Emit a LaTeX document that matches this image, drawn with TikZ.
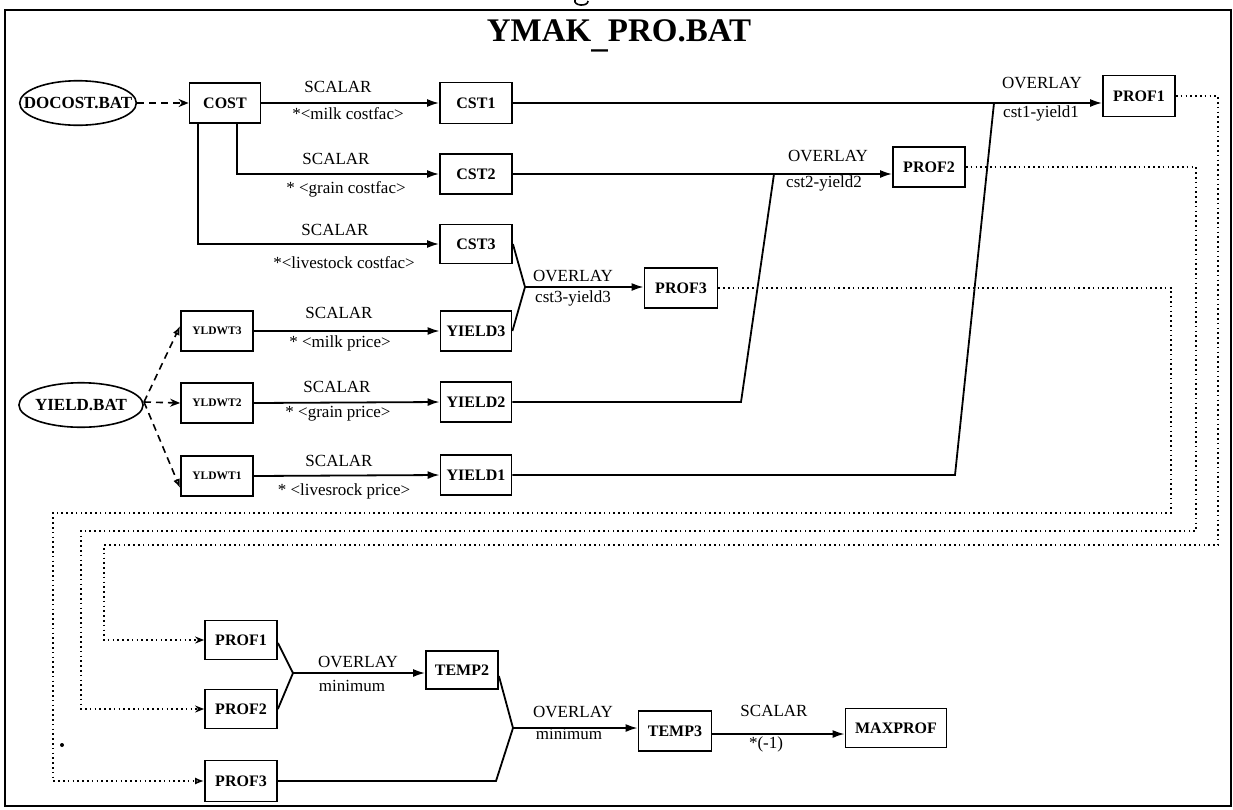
\documentclass[tikz,border=0pt]{standalone}
\usepackage{fontspec}
\setmainfont{Liberation Serif}
\usetikzlibrary{arrows.meta,shapes.geometric}
\tikzset{
  box/.style={draw,line width=1.8pt,inner sep=0pt,minimum width=72pt,minimum height=40pt,font=\bfseries\fontsize{16}{18}\selectfont},
  sbox/.style={box,font=\bfseries\fontsize{11.5}{13}\selectfont},
  oval/.style={draw,ellipse,line width=1.6pt,inner ysep=10pt,font=\bfseries\fontsize{17}{19}\selectfont},
  lab/.style={inner sep=0pt,font=\fontsize{17}{19}\selectfont},
  wire/.style={line width=1.8pt},
  flow/.style={wire,-{Latex[length=12pt,width=8pt]}},
  dashflow/.style={line width=1.6pt,dash pattern=on 7pt off 5pt,-{Stealth[length=10pt,width=8pt]}},
  dashopen/.style={line width=1.6pt,dash pattern=on 7pt off 5pt,-{Latex[open,length=9pt,width=7pt]}},
  dotflow/.style={line width=1.6pt,dash pattern=on 1.6pt off 3.2pt,-{Stealth[length=9pt,width=7pt]}},
  dotopen/.style={line width=1.6pt,dash pattern=on 1.6pt off 3.2pt,-{Latex[open,length=9pt,width=7pt]}},
}
\begin{document}
\begin{tikzpicture}[x=1pt,y=-1pt]
\useasboundingbox (0,0) rectangle (1233,809);
\draw[line width=2pt] (5,10) rectangle (1231,806);
% descender of a cut-off letter above the frame
\draw[line width=1.6pt] (575,0) .. controls (573,6) and (588,7) .. (588,1);
\node[anchor=base,inner sep=0pt,font=\bfseries\fontsize{33}{36}\selectfont] (title) at (619,41) {YMAK\raisebox{-6pt}{\_}PRO.BAT};

% upper nodes
\node[oval,inner xsep=-13pt] (docost) at (78,103) {DOCOST.BAT};
\node[box,minimum width=71pt] (cost) at (225,103) {COST};
\node[box,minimum height=41pt] (cst1) at (476,103) {CST1};
\node[box,minimum height=41pt] (prof1) at (1139,96) {PROF1};
\node[box] (cst2) at (476,174) {CST2};
\node[box] (prof2) at (929,167) {PROF2};
\node[box,minimum height=39pt] (cst3) at (476,244) {CST3};
\node[box,minimum width=73pt] (prof3) at (681,288) {PROF3};
\node[oval,inner xsep=-2pt] (yieldbat) at (81,405) {YIELD.BAT};
\node[sbox] (w3) at (217,331) {YLDWT3};
\node[sbox] (w2) at (217,403) {YLDWT2};
\node[sbox] (w1) at (217,476) {YLDWT1};
\node[box,minimum width=71pt] (y3) at (476,331) {YIELD3};
\node[box,minimum width=71pt] (y2) at (476,402) {YIELD2};
\node[box,minimum width=71pt] (y1) at (476,475) {YIELD1};

% lower nodes
\node[box,minimum height=39pt] (p1b) at (241,640) {PROF1};
\node[box,minimum height=39pt] (p2b) at (241,709) {PROF2};
\node[box,minimum height=41pt] (p3b) at (241,781) {PROF3};
\node[box,minimum height=38pt] (t2) at (462,670) {TEMP2};
\node[box,minimum width=73pt] (t3) at (675,731) {TEMP3};
\node[box,minimum width=101pt,minimum height=39pt] (maxp) at (896,728) {MAXPROF};

% junction points
\coordinate (m3) at (525,287);
\coordinate (m1) at (293,673);
\coordinate (m2) at (513,728);
\coordinate (j2a) at (741,402);
\coordinate (j2b) at (774,174);
\coordinate (j1a) at (955,475);
\coordinate (j1b) at (994,103);
\coordinate (ys) at (144,402);

% connectors upper
\draw[dashflow] (docost.east) -- (cost.west);
\draw[flow] (cost.east) -- (cst1.west);
\draw[flow] ([xshift=12pt]cost.south) |- (cst2.west);
\draw[flow] ([xshift=-27pt]cost.south) |- (cst3.west);
\draw[flow] (cst1.east) -- (cst1.east -| prof1.west);
\draw[flow] (cst2.east) -- (cst2.east -| prof2.west);
\draw[wire] (cst3.east) -- (m3);
\draw[wire] (y3.east) -- (m3);
\draw[flow] (m3) -- (m3 -| prof3.west);
\draw[wire] (y2.east) -- (j2a) -- (j2b);
\draw[wire] (y1.east) -- (j1a) -- (j1b);
\draw[dashopen] (ys) -- ([yshift=5pt]w3.west);
\draw[dashflow] (ys) -- (w2.west);
\draw[dashopen] (ys) -- ([yshift=-12pt]w1.west);
\draw[flow] (w3.east) -- (y3.west);
\draw[flow] (w2.east) -- (y2.west);
\draw[flow] (w1.east) -- (y1.west);

% dotted feedback
\draw[dotflow] (prof1.east) -- (1218,96) -- (1218,545) -- (104,545) |- (p1b.west);
\draw[dotflow] (prof2.east) -- (1196,167) -- (1196,531) -- (81,531) |- (p2b.west);
\draw[dotopen] (prof3.east) -- (1171,288) -- (1171,513) -- (53,513) |- (p3b.west);

% lower connectors
\draw[wire] ([yshift=-3pt]p1b.east) -- (m1);
\draw[wire] (p2b.east) -- (m1);
\draw[flow] (m1) -- (m1 -| t2.west);
\draw[wire] ([yshift=-6pt]t2.east) -- (m2);
\draw[wire] (p3b.east) -- (p3b.east -| 496,0) -- (m2);
\draw[flow] (m2) -- (m2 -| t3.west);
\draw[flow] ([yshift=-3pt]t3.east) -- ([yshift=-3pt]t3.east -| maxp.west);

% labels
\node[lab] (l1) at (338,87) {SCALAR};
\node[lab] (l2) at (348,114) {*<milk costfac>};
\node[lab] (l3) at (336,159) {SCALAR};
\node[lab] (l4) at (346,189) {* <grain costfac>};
\node[lab] (l5) at (335,230) {SCALAR};
\node[lab] (l6) at (344,263) {*<livestock costfac>};
\node[lab] (l7) at (339,313) {SCALAR};
\node[lab] (l8) at (340,343) {* <milk price>};
\node[lab] (l9) at (337,387) {SCALAR};
\node[lab] (l10) at (338,414) {* <grain price>};
\node[lab] (l11) at (339,461) {SCALAR};
\node[lab] (l12) at (344,491) {* <livesrock price>};
\node[lab] (l13) at (1042,83) {OVERLAY};
\node[lab] (l14) at (1041,113) {cst1-yield1};
\node[lab] (l15) at (828,156) {OVERLAY};
\node[lab] (l16) at (824,183) {cst2-yield2};
\node[lab] (l17) at (573,276) {OVERLAY};
\node[lab] (l18) at (573,298) {cst3-yield3};
\node[lab] (l19) at (358,662) {OVERLAY};
\node[lab] (l20) at (352,686) {minimum};
\node[lab] (l21) at (573,712) {OVERLAY};
\node[lab] (l22) at (569,734) {minimum};
\node[lab] (l23) at (774,711) {SCALAR};
\node[lab] (l24) at (766,744) {*(-1)};

\fill (62,745) circle (2pt);
\end{tikzpicture}
\end{document}
